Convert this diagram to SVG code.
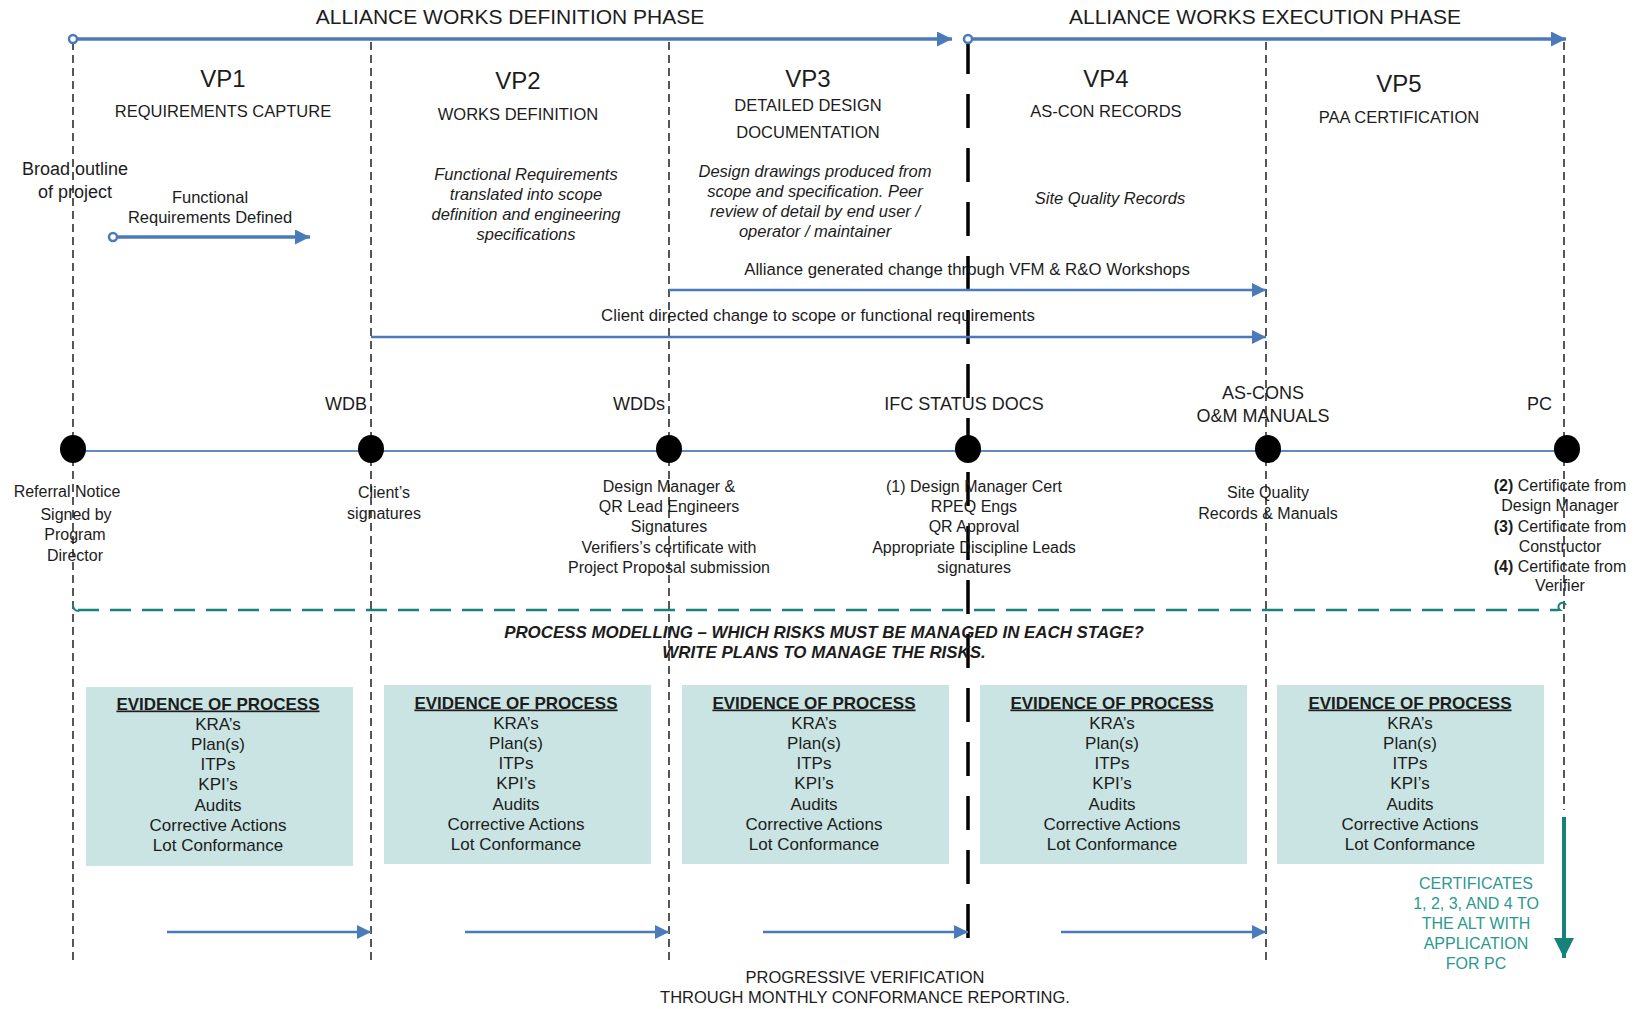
<svg xmlns="http://www.w3.org/2000/svg" width="1639" height="1009" viewBox="0 0 1639 1009">
  <defs>
    <marker id="ahBlue" viewBox="0 0 10 10" refX="10" refY="5" markerWidth="15" markerHeight="14" markerUnits="userSpaceOnUse" orient="auto">
      <path d="M0,0 L10,5 L0,10 Z" fill="#4a7ab9"/>
    </marker>
    <marker id="ahBlueBig" viewBox="0 0 10 10" refX="10" refY="5" markerWidth="16" markerHeight="15" markerUnits="userSpaceOnUse" orient="auto">
      <path d="M0,0 L10,5 L0,10 Z" fill="#4a7ab9"/>
    </marker>
    <marker id="ahTeal" viewBox="0 0 10 10" refX="10" refY="5" markerWidth="21" markerHeight="20" markerUnits="userSpaceOnUse" orient="auto">
      <path d="M0,0 L10,5 L0,10 Z" fill="#17827a"/>
    </marker>
  </defs>
  <style>
    text { font-family: "Liberation Sans", Arial, sans-serif; fill: #1c1c1c; text-anchor: middle; }
    .phase { font-size: 21px; }
    .vp { font-size: 24px; }
    .sub { font-size: 16.5px; }
    .it { font-size: 16.5px; font-style: italic; }
    .lbl { font-size: 18px; }
    .small { font-size: 16px; }
    .chg { font-size: 16.8px; }
    .ev { font-size: 17px; }
    .evh { font-size: 17px; font-weight: bold; text-decoration: underline; }
    .risk { font-size: 16.9px; font-weight: bold; font-style: italic; }
    .cert { font-size: 16px; fill: #2a9a8e; }
    .vline { stroke: #111; stroke-width: 1.4; stroke-dasharray: 8 5; fill: none; }
    .gate { stroke: #000; stroke-width: 3.5; stroke-dasharray: 34 20; fill: none; }
    .phaseArrow { stroke: #4a7ab9; stroke-width: 3.5; fill: none; }
    .flow { stroke: #4a7ab9; stroke-width: 2.4; fill: none; }
    .timeline { stroke: #5f8ac6; stroke-width: 2; fill: none; }
    .box { fill: #c9e4e2; }
    .milestone { fill: #000; }
  </style>

  <rect width="1639" height="1009" fill="#ffffff"/>

  <!-- stage boundaries -->
  <g id="boundaries">
    <line class="vline" x1="73" y1="42" x2="73" y2="960"/>
    <line class="vline" x1="371" y1="42" x2="371" y2="960"/>
    <line class="vline" x1="669" y1="42" x2="669" y2="960"/>
    <line class="vline" x1="1266" y1="42" x2="1266" y2="960"/>
    <line class="vline" x1="1564" y1="42" x2="1564" y2="810"/>
    <line class="gate" x1="968" y1="40" x2="968" y2="945"/>
  </g>

  <!-- phase headings -->
  <g id="phase-definition">
    <text class="phase" x="510" y="24">ALLIANCE WORKS DEFINITION PHASE</text>
  </g>
  <g id="phase-execution">
    <text class="phase" x="1265" y="24">ALLIANCE WORKS EXECUTION PHASE</text>
  </g>

  <!-- verification points -->
  <g id="vp1">
    <text class="vp" x="223" y="87">VP1</text>
    <text class="sub" x="223" y="117">REQUIREMENTS CAPTURE</text>
    <text style="font-size:18px" x="75" y="175">Broad outline</text>
    <text style="font-size:18px" x="75" y="198">of project</text>
    <text class="sub" x="210" y="202.5">Functional</text>
    <text class="sub" x="210" y="222.5">Requirements Defined</text>
  </g>
  <g id="vp2">
    <text class="vp" x="518" y="89">VP2</text>
    <text class="sub" x="518" y="120">WORKS DEFINITION</text>
    <text class="it" x="526" y="179.5">Functional Requirements</text>
    <text class="it" x="526" y="199.5">translated into scope</text>
    <text class="it" x="526" y="220">definition and engineering</text>
    <text class="it" x="526" y="240">specifications</text>
  </g>
  <g id="vp3">
    <text class="vp" x="808" y="87">VP3</text>
    <text class="sub" x="808" y="110.5">DETAILED DESIGN</text>
    <text class="sub" x="808" y="137.5">DOCUMENTATION</text>
    <text class="it" x="815" y="176.5">Design drawings produced from</text>
    <text class="it" x="815" y="197">scope and specification. Peer</text>
    <text class="it" x="815" y="217">review of detail by end user /</text>
    <text class="it" x="815" y="237">operator / maintainer</text>
  </g>
  <g id="vp4">
    <text class="vp" x="1106" y="87">VP4</text>
    <text class="sub" x="1106" y="117">AS-CON RECORDS</text>
    <text class="it" x="1110" y="203.5">Site Quality Records</text>
  </g>
  <g id="vp5">
    <text class="vp" x="1399" y="92">VP5</text>
    <text class="sub" x="1399" y="123">PAA CERTIFICATION</text>
  </g>

  <!-- connectors -->
  <g id="connectors">
    <line class="phaseArrow" x1="73" y1="39" x2="952" y2="39" marker-end="url(#ahBlueBig)"/>
    <circle cx="73" cy="39" r="4" fill="#fff" stroke="#4a7ab9" stroke-width="2.5"/>
    <line class="phaseArrow" x1="968" y1="39" x2="1566" y2="39" marker-end="url(#ahBlueBig)"/>
    <circle cx="968" cy="39" r="4" fill="#fff" stroke="#4a7ab9" stroke-width="2.5"/>

    <line class="phaseArrow" x1="113" y1="237" x2="310" y2="237" marker-end="url(#ahBlueBig)"/>
    <circle cx="113" cy="237" r="4" fill="#fff" stroke="#4a7ab9" stroke-width="2.5"/>

    <line class="flow" x1="669" y1="290" x2="1266" y2="290" marker-end="url(#ahBlue)"/>
    <line class="flow" x1="371" y1="337" x2="1266" y2="337" marker-end="url(#ahBlue)"/>

    <line class="timeline" x1="73" y1="451" x2="1567" y2="451"/>

    <line stroke="#17827a" stroke-width="2.5" stroke-dasharray="21 11" x1="78" y1="610" x2="1558" y2="610"/>
    <path d="M73,605 Q73,611 79,611" fill="none" stroke="#17827a" stroke-width="2"/>
    <path d="M1556,610 L1560,610 A4,4 0 1 1 1566,605" fill="none" stroke="#17827a" stroke-width="2"/>

    <line class="flow" x1="167" y1="932" x2="371" y2="932" marker-end="url(#ahBlue)"/>
    <line class="flow" x1="465" y1="932" x2="669" y2="932" marker-end="url(#ahBlue)"/>
    <line class="flow" x1="763" y1="932" x2="968" y2="932" marker-end="url(#ahBlue)"/>
    <line class="flow" x1="1061" y1="932" x2="1266" y2="932" marker-end="url(#ahBlue)"/>

    <line stroke="#17827a" stroke-width="4" x1="1564" y1="817" x2="1564" y2="958" marker-end="url(#ahTeal)"/>
  </g>

  <!-- change labels -->
  <g id="change-labels">
    <text class="chg" x="967" y="274.5">Alliance generated change through VFM &amp; R&amp;O Workshops</text>
    <text class="chg" x="818" y="320.5">Client directed change to scope or functional requirements</text>
  </g>

  <!-- milestones -->
  <g id="ms-referral">
    <ellipse class="milestone" cx="73" cy="449" rx="13" ry="14"/>
    <text class="small" x="67" y="497">Referral Notice</text>
    <text class="small" x="76" y="520">Signed by</text>
    <text class="small" x="75" y="540">Program</text>
    <text class="small" x="75" y="560.5">Director</text>
  </g>
  <g id="ms-wdb">
    <ellipse class="milestone" cx="371" cy="449" rx="13" ry="14"/>
    <text class="lbl" x="367" y="410" style="text-anchor:end">WDB</text>
    <text class="small" x="384" y="498">Client’s</text>
    <text class="small" x="384" y="519">signatures</text>
  </g>
  <g id="ms-wdds">
    <ellipse class="milestone" cx="669" cy="449" rx="13" ry="14"/>
    <text class="lbl" x="665" y="410" style="text-anchor:end">WDDs</text>
    <text class="small" x="669" y="492">Design Manager &amp;</text>
    <text class="small" x="669" y="512">QR Lead Engineers</text>
    <text class="small" x="669" y="532">Signatures</text>
    <text class="small" x="669" y="552.5">Verifiers’s certificate with</text>
    <text class="small" x="669" y="572.5">Project Proposal submission</text>
  </g>
  <g id="ms-ifc">
    <ellipse class="milestone" cx="968" cy="449" rx="13" ry="14"/>
    <text class="lbl" x="964" y="410">IFC STATUS DOCS</text>
    <text class="small" x="974" y="492">(1) Design Manager Cert</text>
    <text class="small" x="974" y="512">RPEQ Engs</text>
    <text class="small" x="974" y="532">QR Approval</text>
    <text class="small" x="974" y="552.5">Appropriate Discipline Leads</text>
    <text class="small" x="974" y="572.5">signatures</text>
  </g>
  <g id="ms-ascons">
    <ellipse class="milestone" cx="1268" cy="449" rx="13" ry="14"/>
    <text class="lbl" x="1263" y="398.5">AS-CONS</text>
    <text class="lbl" x="1263" y="421.5">O&amp;M MANUALS</text>
    <text class="small" x="1268" y="498">Site Quality</text>
    <text class="small" x="1268" y="519">Records &amp; Manuals</text>
  </g>
  <g id="ms-pc">
    <ellipse class="milestone" cx="1567" cy="449" rx="13" ry="14"/>
    <text class="lbl" x="1552" y="410" style="text-anchor:end">PC</text>
    <text class="small" x="1560" y="491"><tspan font-weight="bold">(2)</tspan> Certificate from</text>
    <text class="small" x="1560" y="511">Design Manager</text>
    <text class="small" x="1560" y="532"><tspan font-weight="bold">(3)</tspan> Certificate from</text>
    <text class="small" x="1560" y="551.5">Constructor</text>
    <text class="small" x="1560" y="571.5"><tspan font-weight="bold">(4)</tspan> Certificate from</text>
    <text class="small" x="1560" y="591">Verifier</text>
  </g>

  <!-- risk modelling note -->
  <g id="risk-note">
    <text class="risk" x="824" y="638">PROCESS MODELLING – WHICH RISKS MUST BE MANAGED IN EACH STAGE?</text>
    <text class="risk" x="824" y="658">WRITE PLANS TO MANAGE THE RISKS.</text>
  </g>

  <!-- evidence of process boxes -->
  <g id="evidence-1">
    <rect class="box" x="86" y="687" width="267" height="179"/>
    <text class="evh" x="218" y="709.5">EVIDENCE OF PROCESS</text>
    <text class="ev" x="218" y="729.5">KRA’s</text>
    <text class="ev" x="218" y="750">Plan(s)</text>
    <text class="ev" x="218" y="770">ITPs</text>
    <text class="ev" x="218" y="790">KPI’s</text>
    <text class="ev" x="218" y="810.5">Audits</text>
    <text class="ev" x="218" y="830.5">Corrective Actions</text>
    <text class="ev" x="218" y="850.5">Lot Conformance</text>
  </g>
  <g id="evidence-2">
    <rect class="box" x="384" y="685" width="267" height="179"/>
    <text class="evh" x="516" y="708.5">EVIDENCE OF PROCESS</text>
    <text class="ev" x="516" y="728.5">KRA’s</text>
    <text class="ev" x="516" y="749">Plan(s)</text>
    <text class="ev" x="516" y="769">ITPs</text>
    <text class="ev" x="516" y="789">KPI’s</text>
    <text class="ev" x="516" y="809.5">Audits</text>
    <text class="ev" x="516" y="829.5">Corrective Actions</text>
    <text class="ev" x="516" y="849.5">Lot Conformance</text>
  </g>
  <g id="evidence-3">
    <rect class="box" x="682" y="685" width="267" height="179"/>
    <text class="evh" x="814" y="708.5">EVIDENCE OF PROCESS</text>
    <text class="ev" x="814" y="728.5">KRA’s</text>
    <text class="ev" x="814" y="749">Plan(s)</text>
    <text class="ev" x="814" y="769">ITPs</text>
    <text class="ev" x="814" y="789">KPI’s</text>
    <text class="ev" x="814" y="809.5">Audits</text>
    <text class="ev" x="814" y="829.5">Corrective Actions</text>
    <text class="ev" x="814" y="849.5">Lot Conformance</text>
  </g>
  <g id="evidence-4">
    <rect class="box" x="980" y="685" width="267" height="179"/>
    <text class="evh" x="1112" y="708.5">EVIDENCE OF PROCESS</text>
    <text class="ev" x="1112" y="728.5">KRA’s</text>
    <text class="ev" x="1112" y="749">Plan(s)</text>
    <text class="ev" x="1112" y="769">ITPs</text>
    <text class="ev" x="1112" y="789">KPI’s</text>
    <text class="ev" x="1112" y="809.5">Audits</text>
    <text class="ev" x="1112" y="829.5">Corrective Actions</text>
    <text class="ev" x="1112" y="849.5">Lot Conformance</text>
  </g>
  <g id="evidence-5">
    <rect class="box" x="1277" y="685" width="267" height="179"/>
    <text class="evh" x="1410" y="708.5">EVIDENCE OF PROCESS</text>
    <text class="ev" x="1410" y="728.5">KRA’s</text>
    <text class="ev" x="1410" y="749">Plan(s)</text>
    <text class="ev" x="1410" y="769">ITPs</text>
    <text class="ev" x="1410" y="789">KPI’s</text>
    <text class="ev" x="1410" y="809.5">Audits</text>
    <text class="ev" x="1410" y="829.5">Corrective Actions</text>
    <text class="ev" x="1410" y="849.5">Lot Conformance</text>
  </g>

  <!-- certificates note -->
  <g id="certificates">
    <text class="cert" x="1476" y="889">CERTIFICATES</text>
    <text class="cert" x="1476" y="909">1, 2, 3, AND 4 TO</text>
    <text class="cert" x="1476" y="929">THE ALT WITH</text>
    <text class="cert" x="1476" y="949">APPLICATION</text>
    <text class="cert" x="1476" y="968.5">FOR PC</text>
  </g>

  <!-- progressive verification note -->
  <g id="progressive">
    <text class="sub" x="865" y="983">PROGRESSIVE VERIFICATION</text>
    <text class="sub" x="865" y="1003">THROUGH MONTHLY CONFORMANCE REPORTING.</text>
  </g>
</svg>
